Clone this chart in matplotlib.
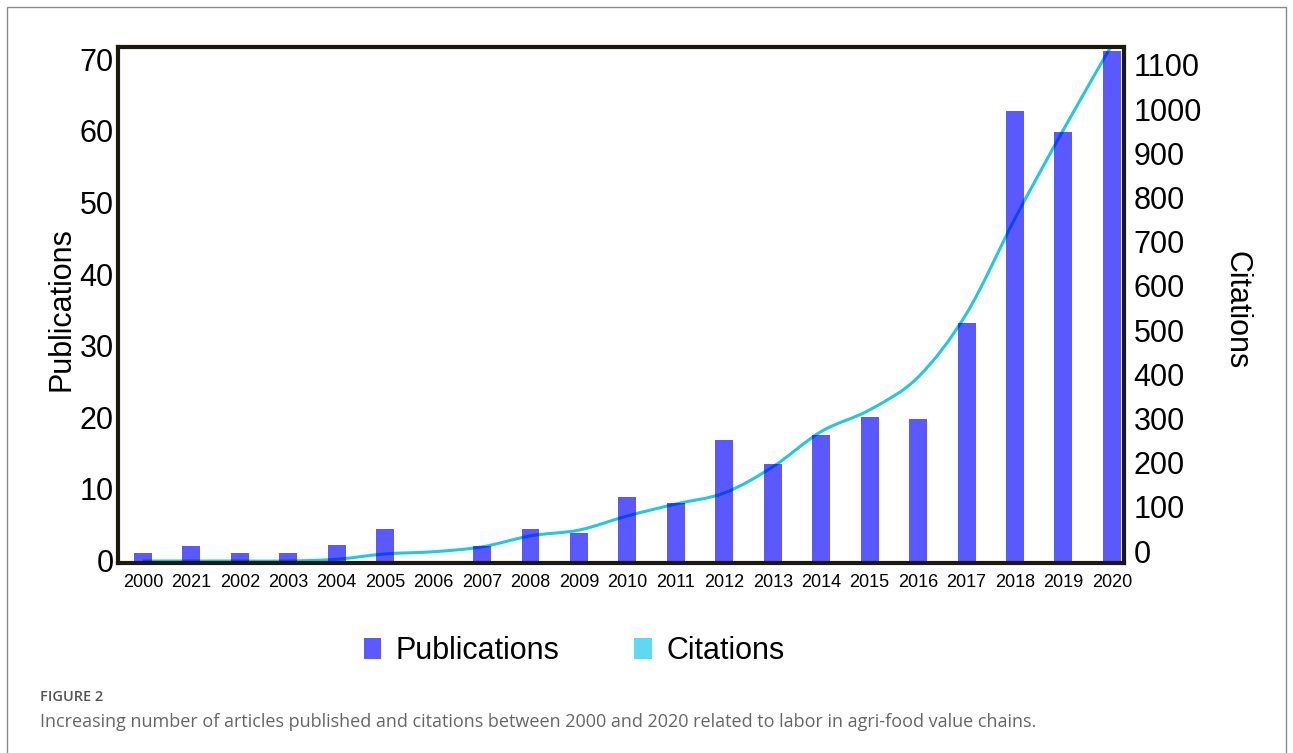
import matplotlib
matplotlib.use("Agg")
import matplotlib.pyplot as plt
from matplotlib.path import Path
from matplotlib.patches import PathPatch, Patch, Rectangle
from matplotlib.transforms import ScaledTranslation
import numpy as np

# ---------------- data ----------------
years = ["2000", "2021", "2002", "2003", "2004", "2005", "2006", "2007", "2008", "2009",
         "2010", "2011", "2012", "2013", "2014", "2015", "2016", "2017", "2018", "2019", "2020"]
publications = [1, 2, 1, 1.1, 2.2, 4.4, 0, 2, 4.4, 3.8,
                8.9, 8.1, 16.9, 13.5, 17.6, 20.1, 19.8, 33.2, 62.8, 59.9, 71.2]
citations = [0, 0, 0, 0, 4, 16, 21, 32, 57, 70,
             102, 129, 154, 213, 293, 342, 416, 560, 775, 976, 1168]
pub_ticks = [0, 10, 20, 30, 40, 50, 60, 70]
cit_ticks = [0, 100, 200, 300, 400, 500, 600, 700, 800, 900, 1000, 1100]

FONT = ["Liberation Sans", "DejaVu Sans"]
plt.rcParams["font.family"] = FONT

W, H = 1293, 753
fig = plt.figure(figsize=(W / 100, H / 100), dpi=100)
fig.patch.set_facecolor("white")

# axes rectangle in pixels
L, R, T, B = 118, 1124, 47, 563
pos = [L / W, 1 - B / H, (R - L) / W, (B - T) / H]

x = np.arange(len(years))

# citations axis (drawn underneath)
ax_c = fig.add_axes(pos, zorder=1)
ax_c.set_xlim(-0.515, 20.25)
ax_c.set_ylim(-4.5, 1163)
ax_c.yaxis.tick_right()
ax_c.yaxis.set_label_position("right")
ax_c.set_yticks(cit_ticks)
ax_c.set_yticklabels([str(v) for v in cit_ticks])
ax_c.tick_params(axis="y", length=0, pad=7, labelsize=22)
ax_c.set_xticks(x)
ax_c.set_xticklabels(years)
ax_c.tick_params(axis="x", length=0, pad=8, labelsize=13)
for s in ax_c.spines.values():
    s.set_linewidth(3)
    s.set_color("#1c1a10")

# smooth citation curve (Catmull-Rom -> cubic Bezier path)
pts = np.column_stack([x, citations]).astype(float)
ext = np.vstack([pts[0], pts, pts[-1]])
verts = [tuple(pts[0])]
codes = [Path.MOVETO]
for i in range(len(pts) - 1):
    p0, p1, p2, p3 = ext[i], ext[i + 1], ext[i + 2], ext[i + 3]
    c1 = p1 + (p2 - p0) / 6.0
    c2 = p2 - (p3 - p1) / 6.0
    verts += [tuple(c1), tuple(c2), tuple(p2)]
    codes += [Path.CURVE4] * 3
line = PathPatch(Path(verts, codes), facecolor="none", edgecolor="#22c8de", lw=2.2)
ax_c.add_patch(line)

ax_c.set_ylabel("Citations", fontsize=22, rotation=270, va="center", ha="center")
ax_c.yaxis.set_label_coords((1237 - L) / (R - L), (B - 310) / (B - T))

# right tick labels sit ~10 px above their ticks in the reference
off = ScaledTranslation(0, 10 / 100, fig.dpi_scale_trans)
for t in ax_c.yaxis.get_major_ticks():
    t.label2.set_transform(t.label2.get_transform() + off)

# publications axis (bars on top)
ax_p = fig.add_axes(pos, zorder=2)
ax_p.patch.set_alpha(0)
ax_p.set_xlim(-0.515, 20.25)
ax_p.set_ylim(-0.34, 71.73)
ax_p.bar(x, publications, width=0.37, color="#0000ff", alpha=0.65, linewidth=0)
ax_p.set_yticks(pub_ticks)
ax_p.set_yticklabels([str(v) for v in pub_ticks])
ax_p.tick_params(axis="y", length=0, pad=3, labelsize=22)
ax_p.set_xticks([])
for s in ax_p.spines.values():
    s.set_visible(False)
ax_p.set_ylabel("Publications", fontsize=22, rotation=90, va="center", ha="center")
ax_p.yaxis.set_label_coords((62 - L) / (R - L), (B - 309) / (B - T))

# legend
handles = [Patch(facecolor="#5a5aff", edgecolor="none"),
           Patch(facecolor="#5fd8f2", edgecolor="none")]
fig.legend(handles, ["Publications", "Citations"], loc="center",
           bbox_to_anchor=(574 / W, 1 - 651 / H), ncol=2, frameon=False,
           fontsize=22, handlelength=0.58, handleheight=0.69,
           handletextpad=0.46, columnspacing=2.45)

# caption
fig.text(40 / W, 1 - 697 / H, "FIGURE 2", fontsize=10.5, color="#555555",
         family=["Open Sans", "DejaVu Sans"], fontweight="semibold", va="center")
fig.text(40 / W, 1 - 722 / H,
         "Increasing number of articles published and citations between 2000 and 2020 related to labor in agri-food value chains.",
         fontsize=13, color="#666666", family=["Open Sans", "DejaVu Sans"], va="center")

# outer frame
fig.add_artist(Rectangle((7 / W, -0.02), (1286 - 7) / W, 1.02 - 7 / H,
                         transform=fig.transFigure, fill=False,
                         edgecolor="#8a8a8a", lw=1))

fig.savefig("out.png", dpi=100)
